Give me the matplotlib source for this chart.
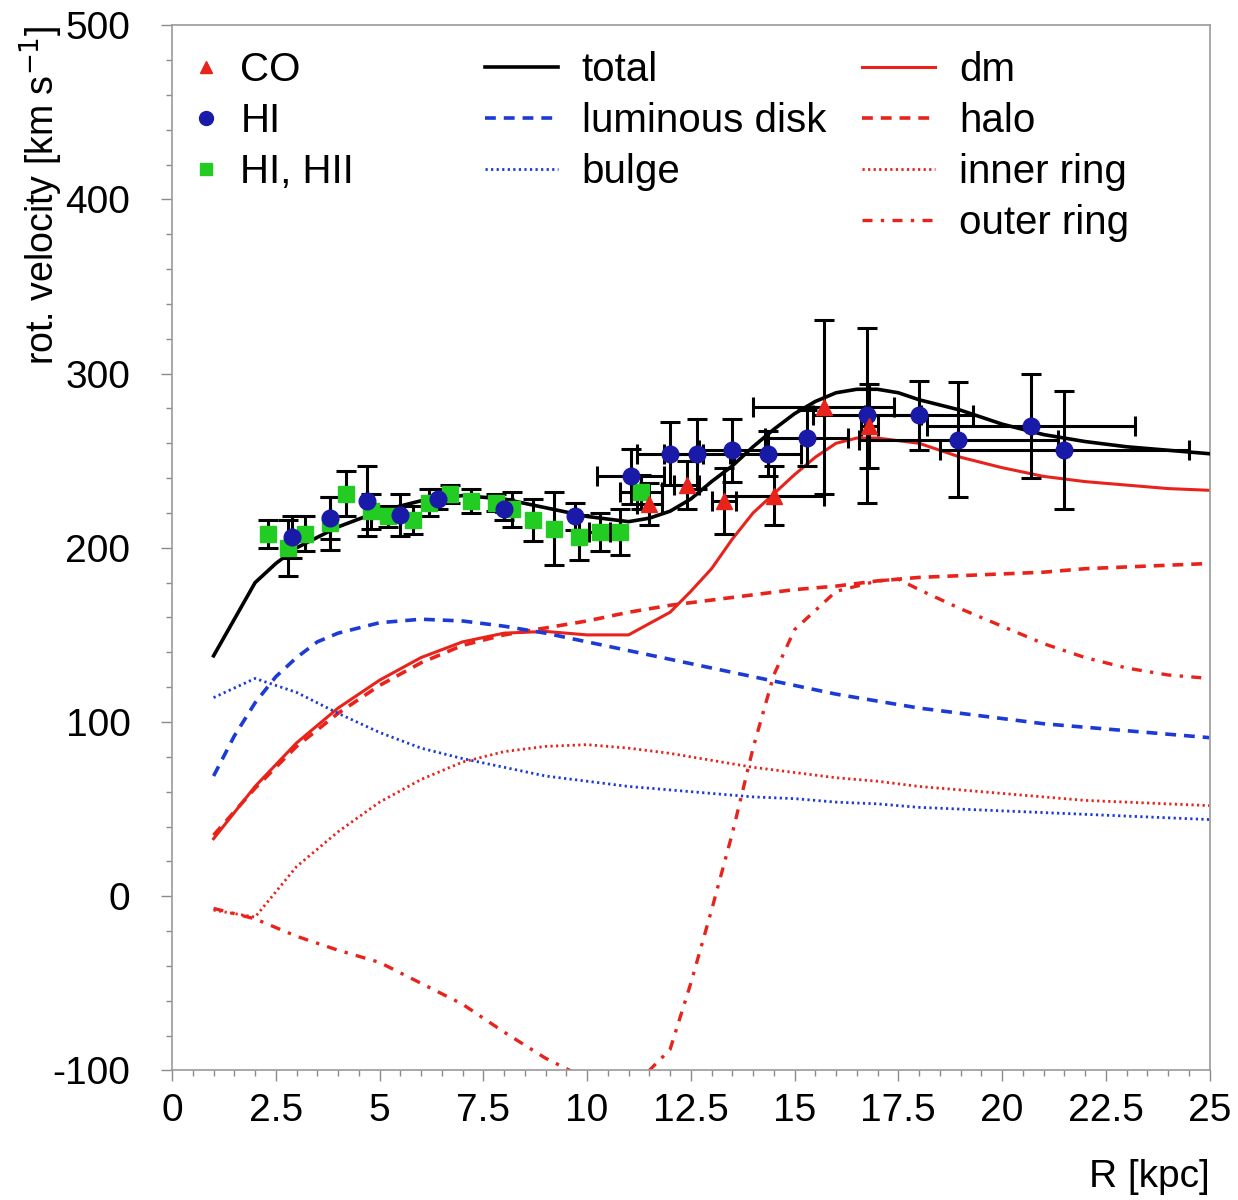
import matplotlib
matplotlib.use("Agg")
import matplotlib.pyplot as plt
from matplotlib.lines import Line2D
from matplotlib.ticker import MultipleLocator, FuncFormatter
import numpy as np

plt.rcParams['font.family'] = ['Liberation Sans', 'DejaVu Sans']
plt.rcParams['axes.unicode_minus'] = False

# ---------------- data ----------------
# CO (red triangles)
co_r = [11.5, 12.4, 13.3, 14.5, 15.7, 16.8]
co_v = [225, 236, 227, 230, 281, 270]
co_verr = [12, 14, 19, 17, 50, 24]
co_rerr = [0.3, 0.3, 0.3, 1.2, 1.7, 0.2]

# HI (blue circles)
hi_r = [2.9, 3.8, 4.7, 5.5, 6.4, 8.0, 9.7, 11.05, 12.0, 12.65, 13.5, 14.35,
        15.3, 16.75, 18.0, 18.95, 20.7, 21.5]
hi_v = [206, 217, 227, 219, 228, 222, 218, 241, 254, 254, 256, 254,
        263, 276, 276, 262, 270, 256]
hi_verr = [12, 12, 20, 12, 6, 6, 8, 16, 18, 20, 18, 13, 16, 50, 20, 33, 30, 34]
hi_rerr = [0, 0, 0, 0, 0, 0, 0, 0.8, 0.8, 0.8, 0.8, 0.8, 1.0, 1.3, 1.3, 2.4, 2.5, 3.0]

# HI, HII (green squares)
hii_r = [2.3, 2.8, 3.2, 3.8, 4.2, 4.8, 5.2, 5.8, 6.2, 6.7, 7.2, 7.8, 8.2, 8.7,
         9.2, 9.8, 10.3, 10.8, 11.3]
hii_v = [208, 200, 208, 214, 231, 221, 218, 216, 226, 231, 227, 226, 222, 216,
         211, 206, 209, 209, 232]
hii_verr = [8, 16, 10, 15, 13, 10, 6, 8, 8, 5, 7, 5, 10, 12, 21, 13, 11, 13, 10]
hii_rerr = [0, 0, 0, 0, 0, 0, 0, 0, 0, 0, 0, 0, 0, 0, 0, 0, 0.25, 0, 0.5]

# model curves
tot_r = [1, 2, 2.5, 3, 4, 5, 6, 7, 8, 9, 10, 11, 11.5, 12, 12.5, 13, 13.5, 14,
         14.5, 15, 15.5, 16, 16.5, 17, 17.5, 18, 19, 20, 21, 22, 23, 24, 25]
tot_v = [138, 180, 191, 200, 212, 221, 227, 230, 228, 223, 218, 215, 217, 221,
         228, 238, 247, 258, 268, 277, 284, 289, 291, 291, 289, 285, 279, 271,
         265, 261, 258, 256, 254]

dm_r = [1, 2, 3, 4, 5, 6, 7, 8, 9, 10, 11, 12, 12.5, 13, 13.5, 14, 14.5, 15,
        15.5, 16, 16.5, 17, 18, 19, 20, 21, 22, 23, 24, 25]
dm_v = [33, 63, 88, 108, 124, 137, 146, 151, 152, 150, 150, 163, 175, 188,
        205, 220, 231, 242, 252, 260, 263, 263, 260, 252, 246, 241, 238, 236,
        234, 233]

halo_r = [1, 2, 3, 4, 5, 6, 7, 8, 9, 10, 11, 12, 13, 14, 15, 16, 17, 18, 19,
          20, 21, 22, 23, 24, 25]
halo_v = [35, 62, 86, 105, 121, 134, 144, 150, 154, 158, 163, 167, 170, 173,
          176, 178, 181, 183, 184, 185, 186, 188, 189, 190, 191]

disk_r = [1, 1.5, 2, 2.5, 3, 3.5, 4, 5, 6, 7, 8, 9, 10, 11, 12, 13, 14, 15,
          16, 17, 18, 19, 20, 21, 22, 23, 24, 25]
disk_v = [69, 92, 111, 126, 137, 146, 151, 157, 159, 158, 155, 151, 146, 141,
          136, 131, 126, 121, 116, 112, 108, 105, 102, 99, 97, 95, 93, 91]

bulge_r = [1, 2, 3, 4, 5, 6, 7, 8, 9, 10, 11, 12, 13, 14, 15, 16, 17, 18, 19,
           20, 21, 22, 23, 24, 25]
bulge_v = [114, 125, 117, 105, 94, 85, 79, 74, 69, 66, 63, 61, 59, 57, 56,
           54, 53, 51, 50, 49, 48, 47, 46, 45, 44]

inner_r = [1, 2, 3, 4, 5, 6, 7, 8, 9, 10, 11, 12, 13, 14, 15, 16, 17, 18, 19,
           20, 21, 22, 23, 24, 25]
inner_v = [-8, -12, 17, 37, 54, 67, 77, 83, 86, 87, 85, 82, 78, 74, 71, 68,
           66, 63, 61, 59, 57, 55, 54, 53, 52]

outer_r = [1, 2, 3, 4, 5, 6, 7, 8, 9, 10, 10.5, 11, 11.5, 12, 12.5, 13, 13.5,
           14, 14.5, 15, 16, 17, 17.5, 18, 19, 20, 21, 22, 23, 24, 25]
outer_v = [-7, -13, -23, -31, -38, -50, -62, -78, -93, -105, -109, -108, -100,
           -88, -50, -8, 36, 85, 127, 153, 175, 181, 182, 176, 165, 155, 145,
           137, 131, 127, 125]

# ---------------- styling ----------------
RED = '#e8231b'
BLUE = '#1c3ad6'
DBLUE = '#1a1aa8'
GREEN = '#22cc22'

fig = plt.figure(figsize=(12.38, 12.0), dpi=100)
ax = fig.add_axes([0.139, 0.108, 0.838, 0.871])

ax.plot(tot_r, tot_v, color='black', lw=2.6, zorder=3)
ax.plot(dm_r, dm_v, color=RED, lw=2.2, zorder=2)
ax.plot(halo_r, halo_v, color=RED, lw=2.6, dashes=(3, 2.2), zorder=2)
ax.plot(inner_r, inner_v, color=RED, lw=2.0, dashes=(0.8, 1.2), zorder=2)
ax.plot(outer_r, outer_v, color=RED, lw=2.4, dashes=(3, 2.5, 1, 2.5), zorder=2)
ax.plot(disk_r, disk_v, color=BLUE, lw=2.6, dashes=(3, 2.2), zorder=2)
ax.plot(bulge_r, bulge_v, color=BLUE, lw=2.0, dashes=(0.8, 1.2), zorder=2)

ekw = dict(fmt='none', ecolor='black', elinewidth=2.2, capsize=7, capthick=2.2, zorder=4)
ax.errorbar(hii_r, hii_v, yerr=hii_verr, xerr=hii_rerr, **ekw)
ax.errorbar(hi_r, hi_v, yerr=hi_verr, xerr=hi_rerr, **ekw)
ax.errorbar(co_r, co_v, yerr=co_verr, xerr=co_rerr, **ekw)

ax.plot(hii_r, hii_v, 's', color=GREEN, ms=12, mec=GREEN, zorder=5)
ax.plot(hi_r, hi_v, 'o', color=DBLUE, ms=12, mec=DBLUE, zorder=6)
ax.plot(co_r, co_v, '^', color=RED, ms=11, mec=RED, zorder=7)

ax.set_xlim(0, 25)
ax.set_ylim(-100, 500)
ax.xaxis.set_major_locator(MultipleLocator(2.5))
ax.xaxis.set_minor_locator(MultipleLocator(0.5))
ax.yaxis.set_major_locator(MultipleLocator(100))
ax.yaxis.set_minor_locator(MultipleLocator(20))
ax.xaxis.set_major_formatter(FuncFormatter(lambda v, p: '{:g}'.format(v)))
ax.yaxis.set_major_formatter(FuncFormatter(lambda v, p: '{:g}'.format(v)))

for s in ax.spines.values():
    s.set_color('#9a9a9a')
    s.set_linewidth(1.2)
ax.tick_params(which='major', direction='out', length=8, width=1.0, color='#8a8a8a')
ax.tick_params(which='minor', direction='out', length=4, width=1.0, color='#8a8a8a')
ax.tick_params(axis='y', labelsize=28, pad=22)
ax.tick_params(axis='x', labelsize=28, pad=8)

ax.set_ylabel('rot. velocity [km s$^{-1}$]', loc='top', fontsize=27, labelpad=-9)
ax.set_xlabel('R [kpc]', loc='right', fontsize=28, labelpad=22)

# ---------------- legends ----------------
lfs = 29
h1 = [Line2D([], [], ls='none', marker='^', color=RED, ms=9),
      Line2D([], [], ls='none', marker='o', color=DBLUE, ms=10),
      Line2D([], [], ls='none', marker='s', color=GREEN, ms=9)]
l1 = ax.legend(h1, ['CO', 'HI', 'HI, HII'], loc='upper left',
               bbox_to_anchor=(-0.008, 1.0), frameon=False, fontsize=lfs,
               handlelength=0.8, handletextpad=0.45, labelspacing=0.32,
               borderaxespad=0.25)
ax.add_artist(l1)

h2 = [Line2D([], [], color='black', lw=2.6),
      Line2D([], [], color=BLUE, lw=2.6, dashes=(3, 2.2)),
      Line2D([], [], color=BLUE, lw=2.0, dashes=(0.8, 1.2))]
l2 = ax.legend(h2, ['total', 'luminous disk', 'bulge'], loc='upper left',
               bbox_to_anchor=(0.2765, 1.0), frameon=False, fontsize=lfs,
               handlelength=1.8, handletextpad=0.6, labelspacing=0.32,
               borderaxespad=0.25)
ax.add_artist(l2)

h3 = [Line2D([], [], color=RED, lw=2.2),
      Line2D([], [], color=RED, lw=2.6, dashes=(3, 2.2)),
      Line2D([], [], color=RED, lw=2.0, dashes=(0.8, 1.2)),
      Line2D([], [], color=RED, lw=2.4, dashes=(3, 2.5, 1, 2.5))]
l3 = ax.legend(h3, ['dm', 'halo', 'inner ring', 'outer ring'], loc='upper left',
               bbox_to_anchor=(0.64, 1.0), frameon=False, fontsize=lfs,
               handlelength=1.8, handletextpad=0.6, labelspacing=0.32,
               borderaxespad=0.25)

fig.savefig('out.png', dpi=100)
